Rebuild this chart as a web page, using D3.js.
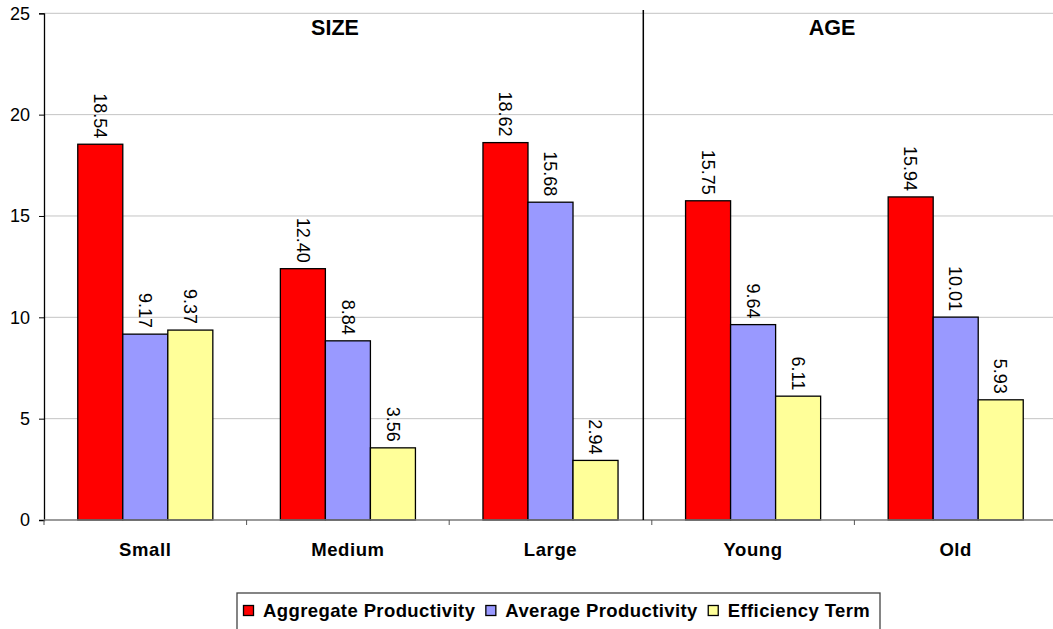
<!DOCTYPE html>
<html>
<head>
<meta charset="utf-8">
<script src="https://cdn.jsdelivr.net/npm/d3@7"></script>
<style>
  html, body { margin: 0; padding: 0; background: #fff; }
  svg { display: block; font-family: "Liberation Sans", Arial, sans-serif; }
</style>
</head>
<body>
<svg id="chart" width="1053" height="629"></svg>
<script>
// Productivity decomposition by firm size and age
const categories = ["Small", "Medium", "Large", "Young", "Old"];
const seriesNames = ["Aggregate Productivity", "Average Productivity", "Efficiency Term"];
const aggregateProductivity = [18.54, 12.40, 18.62, 15.75, 15.94];
const averageProductivity = [9.17, 8.84, 15.68, 9.64, 10.01];
const efficiencyTerm = [9.37, 3.56, 2.94, 6.11, 5.93];
const yTicks = [0, 5, 10, 15, 20, 25];
const panelTitles = ["SIZE", "AGE"];

const seriesValues = [aggregateProductivity, averageProductivity, efficiencyTerm];
const colors = ["#ff0000", "#9999ff", "#ffff99"];

const svg = d3.select("#chart");
const plotLeft = 44, plotTop = 13.3, plotBottom = 520;
const catWidth = 202.6;

const x0 = d3.scaleBand().domain(categories).range([plotLeft, plotLeft + catWidth * categories.length]);
const y = d3.scaleLinear().domain([0, 25]).range([plotBottom, plotTop]);
const barW = x0.bandwidth() / 4.5;
const x1 = d3.scaleBand().domain(seriesNames).range([0, barW * 3]);

// Horizontal gridlines
svg.append("g").selectAll("line").data(yTicks.slice(1)).join("line")
  .attr("x1", plotLeft).attr("x2", 1053)
  .attr("y1", d => y(d)).attr("y2", d => y(d))
  .attr("stroke", "#c4c4c4").attr("stroke-width", 1);

// Bars
const rows = categories.map((c, i) => ({ cat: c, vals: seriesNames.map((s, j) => ({ s, j, v: seriesValues[j][i] })) }));
const groups = svg.append("g").selectAll("g").data(rows).join("g")
  .attr("transform", d => `translate(${x0(d.cat) + barW * 0.75},0)`);

groups.selectAll("rect").data(d => d.vals).join("rect")
  .attr("x", d => x1(d.s))
  .attr("y", d => y(d.v))
  .attr("width", x1.bandwidth())
  .attr("height", d => y(0) - y(d.v))
  .attr("fill", d => colors[d.j])
  .attr("stroke", "#000").attr("stroke-width", 1.3);

// Value labels, rotated
groups.selectAll("text").data(d => d.vals).join("text")
  .attr("transform", d => `translate(${x1(d.s) + x1.bandwidth() / 2},${y(d.v) - 6}) rotate(90)`)
  .attr("text-anchor", "end")
  .attr("dy", "0.35em")
  .attr("font-size", 18)
  .attr("fill", "#000")
  .text(d => d.v.toFixed(2));

// Y axis
const yAxis = svg.append("g").attr("transform", `translate(${plotLeft},0)`)
  .call(d3.axisLeft(y).tickValues(yTicks).tickSize(5).tickPadding(9).tickFormat(d3.format("d")));
yAxis.select(".domain").attr("stroke", "#000").attr("stroke-width", 1.3);
yAxis.selectAll(".tick line").attr("stroke", "#000");
yAxis.selectAll("text").attr("font-size", 18).attr("font-family", "Liberation Sans, Arial, sans-serif").attr("fill", "#000");

// X axis with boundary ticks
const bounds = d3.range(categories.length + 1).map(i => plotLeft + i * catWidth);
const xAxis = svg.append("g");
xAxis.append("line").attr("x1", plotLeft).attr("x2", 1053).attr("y1", plotBottom).attr("y2", plotBottom)
  .attr("stroke", "#7a7a7a").attr("stroke-width", 1.3);
xAxis.selectAll("line.tk").data(bounds).join("line").attr("class", "tk")
  .attr("x1", d => d).attr("x2", d => d).attr("y1", plotBottom).attr("y2", plotBottom + 5)
  .attr("stroke", "#555").attr("stroke-width", 1);
xAxis.selectAll("text").data(categories).join("text")
  .attr("x", d => x0(d) + x0.bandwidth() / 2)
  .attr("y", 556)
  .attr("text-anchor", "middle")
  .attr("font-size", 18.5).attr("font-weight", "bold")
  .attr("letter-spacing", 0.6)
  .text(d => d);

// Divider between the SIZE and AGE panels
const dividerX = 643.3;
svg.append("line").attr("x1", dividerX).attr("x2", dividerX).attr("y1", 10).attr("y2", plotBottom)
  .attr("stroke", "#000").attr("stroke-width", 1.5);

// Panel titles, centred over each panel's area
const titleX = [335, 832];
svg.selectAll("text.title").data(panelTitles).join("text").attr("class", "title")
  .attr("x", (d, i) => titleX[i]).attr("y", 34.5)
  .attr("text-anchor", "middle")
  .attr("font-size", 21.5).attr("font-weight", "bold")
  .text(d => d);

// Legend
const legend = svg.append("g");
legend.append("rect").attr("x", 237).attr("y", 593).attr("width", 643).attr("height", 44)
  .attr("fill", "#fff").attr("stroke", "#444").attr("stroke-width", 1.3);
let lx = 243.5;
seriesNames.forEach((name, i) => {
  legend.append("rect").attr("x", lx).attr("y", 605.5).attr("width", 10).attr("height", 10)
    .attr("fill", colors[i]).attr("stroke", "#000").attr("stroke-width", 1.3);
  const t = legend.append("text").attr("x", lx + 19.5).attr("y", 616.5)
    .attr("font-size", 18.5).attr("font-weight", "bold").attr("letter-spacing", 0.4)
    .text(name);
  lx = lx + 19.5 + t.node().getComputedTextLength() + 10.5;
});
</script>
</body>
</html>
